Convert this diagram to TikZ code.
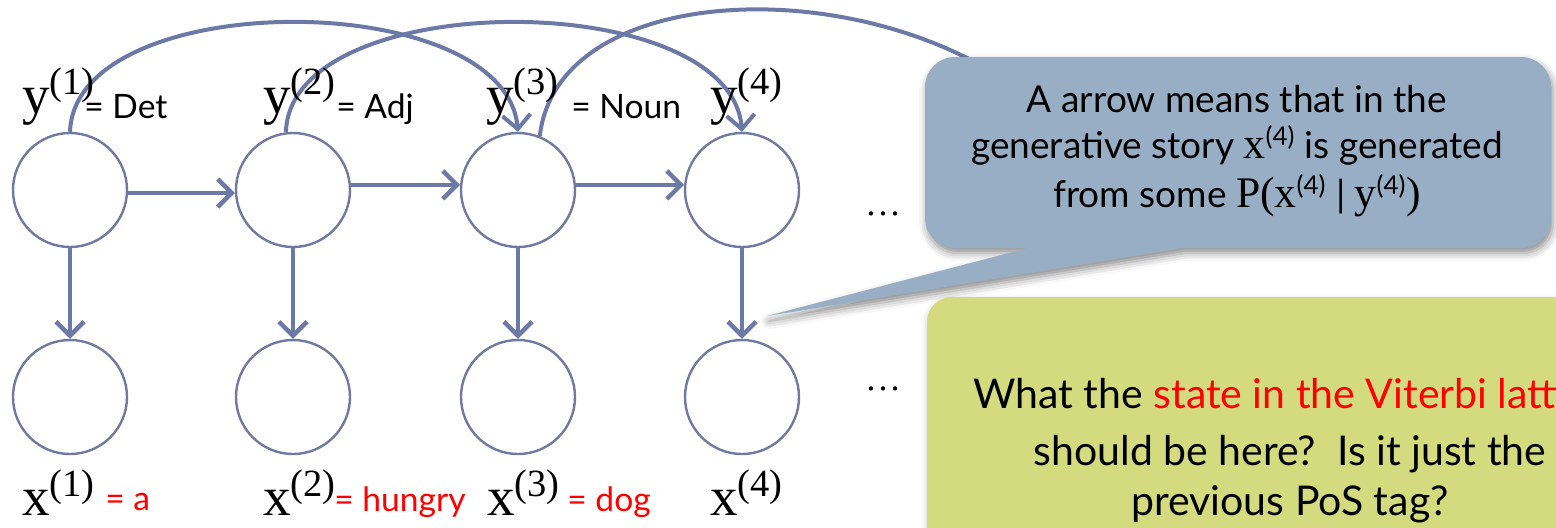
\documentclass[tikz,border=0pt]{standalone}
\usepackage{fontspec}
\usetikzlibrary{arrows.meta,shadows.blur}
\newfontfamily\gill{Lato}
\newfontfamily\tnr{Liberation Serif}
\newfontfamily\tnrbig[Scale=1.18]{Liberation Serif}
\definecolor{edge}{RGB}{108,120,165}
\definecolor{ring}{RGB}{112,122,160}
\definecolor{callblue}{RGB}{151,174,196}
\definecolor{notegreen}{RGB}{211,219,126}

\begin{document}
\begin{tikzpicture}[x=0.5pt,y=-0.5pt,
  var/.style={circle,draw=ring,line width=1.2pt,minimum size=57pt,inner sep=0pt},
  link/.style={draw=edge,line width=2.2pt,-{Straight Barb[length=7pt,width=14pt]}},
  longarc/.style={draw=edge,line width=2pt},
  mathlbl/.style={font=\tnr\fontsize{27.5}{30}\selectfont,inner sep=0pt,anchor=base west},
  taglbl/.style={font=\gill\fontsize{16.8}{19}\selectfont,inner sep=0pt,anchor=base west},
  wordlbl/.style={taglbl,text=red},
  dots/.style={font=\tnr\fontsize{18}{20}\selectfont,inner sep=0pt,anchor=base},
  calltext/.style={font=\gill\fontsize{18.5}{22}\selectfont,inner sep=0pt,anchor=base},
  notetext/.style={font=\gill\fontsize{20.5}{24}\selectfont,inner sep=0pt,anchor=base},
]
\useasboundingbox (0,0) rectangle (1556,527);
\clip (0,0) rectangle (1556,527);

% hidden states and observations
\node[var] (y1) at (70,190) {};
\node[var] (y2) at (293,190) {};
\node[var] (y3) at (518,190) {};
\node[var] (y4) at (742,190) {};
\node[var] (x1) at (70,397) {};
\node[var] (x2) at (293,397) {};
\node[var] (x3) at (518,397) {};
\node[var] (x4) at (742,397) {};
\coordinate (y5) at (1080,150);

% first-order transitions
\draw[link] (y1.-3) -- (y2.-177);
\draw[link] (y2.5) -- (y3.175);
\draw[link] (y3.5) -- (y4.175);

% emissions
\draw[link] (y1.south) -- (x1.north);
\draw[link] (y2.south) -- (x2.north);
\draw[link] (y3.south) -- (x3.north);
\draw[link] (y4.south) -- (x4.north);

% second-order transitions
\draw[longarc,-{Straight Barb[length=7pt,width=14pt]}] (y1.north) .. controls (75,-14) and (505,-14) .. (y3.north);
\draw[longarc,-{Straight Barb[length=7pt,width=14pt]}] (y2.97) .. controls (290,-14) and (730,-14) .. (y4.north);
\draw[longarc] (y3.68) .. controls (560,-40) and (950,-30) .. (y5);

% labels
\node[mathlbl] (ly1) at (22,113) {y\textsuperscript{(1)}};
\node[taglbl] (ty1) at (84,118) {= Det};
\node[mathlbl] (ly2) at (263,113) {y\textsuperscript{(2)}};
\node[taglbl] (ty2) at (336,118) {= Adj};
\node[mathlbl] (ly3) at (486,113) {y\textsuperscript{(3)}};
\node[taglbl] (ty3) at (571,118) {= Noun};
\node[mathlbl] (ly4) at (710,113) {y\textsuperscript{(4)}};

\node[mathlbl] (lx1) at (22,515) {x\textsuperscript{(1)}};
\node[wordlbl] (wx1) at (105,510) {= a};
\node[mathlbl] (lx2) at (263,515) {x\textsuperscript{(2)}};
\node[wordlbl] (wx2) at (334,511) {= hungry};
\node[mathlbl] (lx3) at (487,515) {x\textsuperscript{(3)}};
\node[wordlbl] (wx3) at (567,511) {= dog};
\node[mathlbl] (lx4) at (710,515) {x\textsuperscript{(4)}};

\node[dots] (d1) at (883,215) {…};
\node[dots] (d2) at (883,390) {…};

% speech bubble
\fill[callblue,blur shadow={shadow xshift=1pt,shadow yshift=-2.5pt,shadow blur radius=4pt,shadow opacity=45}]
  (1028,248) -- (767,316) -- (1183,248) -- (1521,248)
  .. controls (1537.6,248) and (1551,234.6) .. (1551,218) -- (1551,87)
  .. controls (1551,70.4) and (1537.6,57) .. (1521,57) -- (955,57)
  .. controls (938.4,57) and (925,70.4) .. (925,87) -- (925,218)
  .. controls (925,234.6) and (938.4,248) .. (955,248) -- cycle;
\node[calltext] (c1) at (1237,112) {A arrow means that in the};
\node[calltext] (c2) at (1237,158) {generative story {\tnrbig x}\textsuperscript{(4)} is generated};
\node[calltext] (c3) at (1237,207) {from some {\tnrbig P(x}\textsuperscript{(4)} | {\tnrbig y}\textsuperscript{(4)}{\tnrbig )}};

% question box
\fill[notegreen,blur shadow={shadow xshift=0pt,shadow yshift=-1.5pt,shadow blur radius=3pt,shadow opacity=20}]
  (927,600) -- (927,322) .. controls (927,308.2) and (938.2,297) .. (952,297)
  -- (1650,297) -- (1650,600) -- cycle;
\node[notetext] (q1) at (1290,408) {What the \textcolor{red}{state in the Viterbi lattice}};
\node[notetext] (q2) at (1290,465) {should be here?\ \ Is it just the};
\node[notetext] (q3) at (1290,515) {previous PoS tag?};
\end{tikzpicture}
\end{document}
